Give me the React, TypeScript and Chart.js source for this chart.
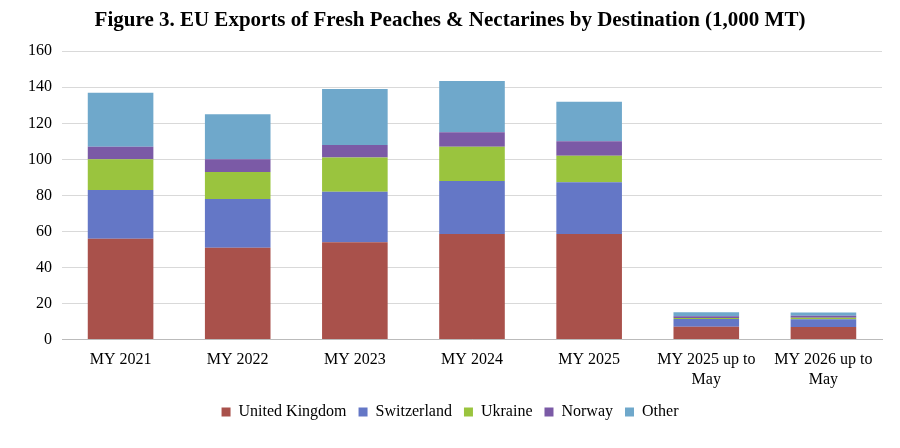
import React, { useEffect, useRef } from "react";
import { Chart, registerables } from "chart.js";
Chart.register(...registerables);

const categories: (string | string[])[] = ["MY 2021", "MY 2022", "MY 2023", "MY 2024", "MY 2025", ["MY 2025 up to", "May"], ["MY 2026 up to", "May"]];
const unitedKingdom = [56, 51, 54, 58.6, 58.6, 7.1, 7];
const switzerland = [27, 27, 28, 29.4, 28.7, 4.3, 4.3];
const ukraine = [17, 15, 19, 19, 14.7, 0.6, 0.8];
const norway = [7, 7, 7, 8, 8, 1, 1.2];
const other = [30, 25, 31, 28.5, 22, 2.2, 1.8];
const yTicks = [0, 20, 40, 60, 80, 100, 120, 140, 160];

export default function App() {
  const ref = useRef<HTMLCanvasElement>(null);
  useEffect(() => {
    const font = { family: "'Liberation Serif', 'Times New Roman', serif", size: 16 };
    const mk = (label: string, data: number[], color: string) => ({
      label, data, backgroundColor: color, barPercentage: 0.56, categoryPercentage: 1,
    });
    const chart = new Chart(ref.current!, {
      type: "bar",
      data: {
        labels: categories,
        datasets: [
          mk("United Kingdom", unitedKingdom, "#a9514b"),
          mk("Switzerland", switzerland, "#6477c6"),
          mk("Ukraine", ukraine, "#9ac43e"),
          mk("Norway", norway, "#7b5aa6"),
          mk("Other", other, "#6fa8cb"),
        ],
      },
      options: {
        animation: false,
        responsive: false,
        layout: { padding: { left: 10, right: 10, top: 0, bottom: 10 } },
        plugins: {
          title: {
            display: true,
            text: "Figure 3. EU Exports of Fresh Peaches & Nectarines by Destination (1,000 MT)",
            font: { family: font.family, size: 21, weight: "bold" },
            color: "#000",
            padding: { top: 0, bottom: 18 },
          },
          legend: {
            position: "bottom",
            labels: { font, color: "#000", boxWidth: 9, boxHeight: 9, padding: 12 },
          },
          tooltip: { enabled: false },
        },
        scales: {
          x: {
            stacked: true,
            grid: { display: false },
            border: { color: "#bbb" },
            ticks: { font, color: "#000", maxRotation: 0, autoSkip: false },
          },
          y: {
            stacked: true,
            min: 0,
            max: 160,
            afterBuildTicks: (axis: any) => { axis.ticks = yTicks.map((v) => ({ value: v })); },
            grid: { color: "#d9d9d9", drawTicks: false },
            border: { display: false },
            ticks: { font, color: "#000", padding: 10 },
          },
        },
      },
    });
    return () => chart.destroy();
  }, []);
  return <canvas ref={ref} width={884} height={432} style={{ display: "block" }} />;
}
